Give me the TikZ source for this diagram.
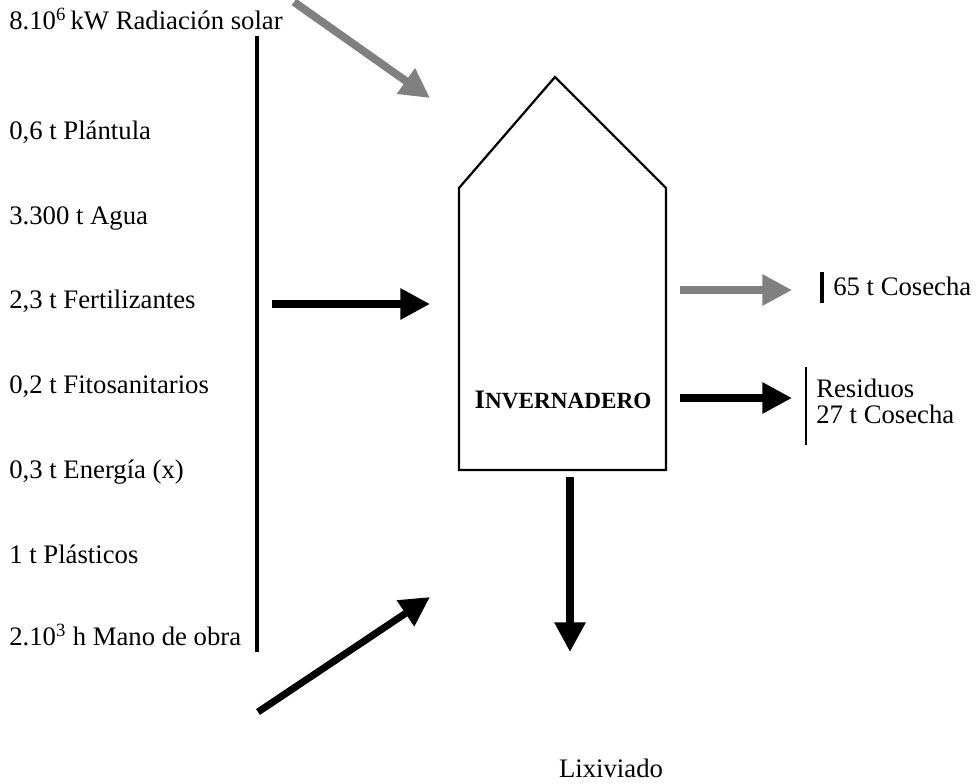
\documentclass[tikz,border=0pt]{standalone}
\usepackage{fontspec}
\setmainfont{Liberation Serif}
\usetikzlibrary{%
  arrows.meta,% Triangle tips
  positioning%
}

\begin{document}
\begin{tikzpicture}[
    x=0.025cm,y=-0.025cm,
    line join=miter,
    every node/.style={font=\fontsize{19}{22}\selectfont,inner sep=0pt},
    entrada/.style={anchor=base west},
    flujo/.style={line width=5pt,-{Triangle[length=21pt,width=21pt]}},
    flujogris/.style={flujo,black!50},
    barra/.style={line width=3.5pt},
    casa/.style={line width=1.6pt}
  ]
    \useasboundingbox (0,0) rectangle (978,783);

    % entradas
    \node[entrada] (radiacion) at (9,29)  {8.10\textsuperscript{6}\,kW Radiación solar};
    \node[entrada] (plantula)  at (9,139) {0,6 t Plántula};
    \node[entrada] (agua)      at (9,224) {3.300 t Agua};
    \node[entrada] (fertil)    at (9,308) {2,3 t Fertilizantes};
    \node[entrada] (fitosan)   at (9,393) {0,2 t Fitosanitarios};
    \node[entrada] (energia)   at (9,478) {0,3 t Energía (x)};
    \node[entrada] (plasticos) at (9,563) {1 t Plásticos};
    \node[entrada] (manoobra)  at (9,645) {2.10\textsuperscript{3} h Mano de obra};

    \coordinate (barraA) at (257,36);
    \coordinate (barraB) at (257,652);
    \draw[barra] (barraA) -- (barraB);

    % invernadero
    \coordinate (techo) at (555,77);
    \coordinate (hombroI) at (459,188);
    \coordinate (hombroD) at (666,188);
    \coordinate (pieD) at (666,470);
    \coordinate (pieI) at (459,470);
    \draw[casa] (pieI) -- (hombroI) -- (techo) -- (hombroD) -- (pieD) -- cycle;
    \node (invernadero) at (563,400)
        {\bfseries I{\fontsize{16.5}{18}\selectfont NVERNADERO}};

    % flujos de entrada
    \coordinate (solarA) at (294,2);
    \coordinate (solarB) at (430,98);
    \coordinate (insumoA) at (272,304);
    \coordinate (insumoB) at (430,304);
    \coordinate (obraA) at (258,712);
    \coordinate (obraB) at (430,597);
    \draw[flujogris,line width=5.6pt] (solarA) -- (solarB);
    \draw[flujo] (insumoA) -- (insumoB);
    \draw[flujo] (obraA) -- (obraB);

    % salidas
    \coordinate (cosechaA) at (680,290);
    \coordinate (cosechaB) at (792,290);
    \coordinate (residuoA) at (680,398);
    \coordinate (residuoB) at (792,398);
    \coordinate (lixA) at (570,477);
    \coordinate (lixB) at (570,652);
    \draw[flujogris] (cosechaA) -- (cosechaB);
    \draw[flujo] (residuoA) -- (residuoB);
    \draw[flujo] (lixA) -- (lixB);

    \coordinate (marcaA) at (822,272);
    \coordinate (marcaB) at (822,303);
    \draw[barra] (marcaA) -- (marcaB);
    \node[entrada] (cosecha) at (833,295) {65 t Cosecha};

    \coordinate (marcaC) at (806,367);
    \coordinate (marcaD) at (806,445);
    \draw[line width=2pt] (marcaC) -- (marcaD);
    \node[anchor=west,align=left,font=\fontsize{19}{18.5}\selectfont]
        (residuos) at (816,401) {Residuos\\27 t Cosecha};

    \node (lixiviado) at (611,768) {Lixiviado};
\end{tikzpicture}
\end{document}
